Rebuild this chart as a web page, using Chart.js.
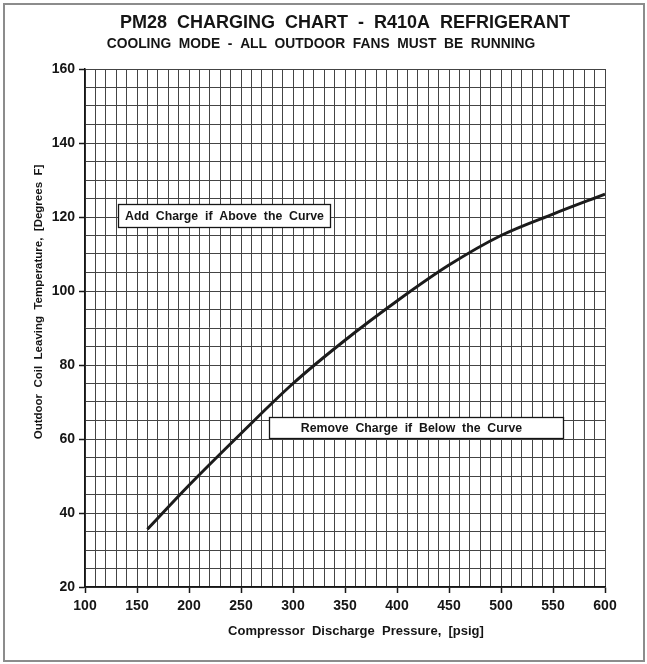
<!DOCTYPE html>
<html>
<head>
<meta charset="utf-8">
<script src="https://cdn.jsdelivr.net/npm/chart.js@4.4.1/dist/chart.umd.min.js"></script>
<style>
  html, body { margin: 0; padding: 0; background: #fff; }
  canvas { display: block; }
</style>
</head>
<body>
<canvas id="chart" width="647" height="664"></canvas>
<script>
// Charging curve: compressor discharge pressure (psig) vs outdoor coil leaving temperature (°F)
const pressurePsig = [160, 200, 250, 300, 350, 400, 450, 500, 550, 600];
const leavingTempF = [35.6, 47.5, 61.5, 75.0, 86.7, 97.3, 107.0, 115.0, 120.8, 126.2];

// Labelled ticks on each axis
const xTickLabels = [100, 150, 200, 250, 300, 350, 400, 450, 500, 550, 600];
const yTickLabels = [20, 40, 60, 80, 100, 120, 140, 160];

// Text
const chartTitle = 'PM28  CHARGING  CHART  -  R410A  REFRIGERANT';
const chartSubtitle = 'COOLING  MODE  -  ALL  OUTDOOR  FANS  MUST  BE  RUNNING';
const xAxisTitle = 'Compressor  Discharge  Pressure,  [psig]';
const yAxisTitle = 'Outdoor  Coil  Leaving  Temperature,  [Degrees  F]';
const addChargeNote = 'Add  Charge  if  Above  the  Curve';
const removeChargeNote = 'Remove  Charge  if  Below  the  Curve';

const FONT = '"Liberation Sans", Arial, Helvetica, sans-serif';
const INK = '#151515';

// Fine grid: every 10 psig and every 5 °F
const X_MIN = 100, X_MAX = 600, X_STEP = 10;
const Y_MIN = 20, Y_MAX = 160, Y_STEP = 5;
const xGrid = [];
for (let v = X_MIN; v <= X_MAX; v += X_STEP) xGrid.push(v);
const yGrid = [];
for (let v = Y_MIN; v <= Y_MAX; v += Y_STEP) yGrid.push(v);

// Note boxes, placed in axis units
const noteBoxes = [
  { text: addChargeNote,    x0: 131.5, x1: 335.5, y0: 117.2, y1: 123.4, shift: 0 },
  { text: removeChargeNote, x0: 277,   x1: 560,   y0: 60.4,  y1: 66.0,  shift: -5 }
];

const pagePlugin = {
  id: 'page',
  beforeDraw(chart) {
    const ctx = chart.ctx;
    ctx.save();
    ctx.fillStyle = '#fff';
    ctx.fillRect(0, 0, chart.width, chart.height);
    ctx.strokeStyle = '#8c8c8c';
    ctx.lineWidth = 2;
    ctx.strokeRect(4, 4, chart.width - 7, chart.height - 7);
    ctx.restore();
  },
  beforeDatasetsDraw(chart) {
    const ctx = chart.ctx;
    const xs = chart.scales.x, ys = chart.scales.y;
    ctx.save();
    ctx.font = 'bold 12.3px ' + FONT;
    ctx.textAlign = 'center';
    ctx.textBaseline = 'middle';
    noteBoxes.forEach(b => {
      const l = Math.round(xs.getPixelForValue(b.x0)) + 0.5;
      const r = Math.round(xs.getPixelForValue(b.x1)) + 0.5;
      const t = Math.round(ys.getPixelForValue(b.y1)) + 0.5;
      const btm = Math.round(ys.getPixelForValue(b.y0)) + 0.5;
      ctx.fillStyle = '#fff';
      ctx.fillRect(l, t, r - l, btm - t);
      ctx.strokeStyle = INK;
      ctx.lineWidth = 1.3;
      ctx.strokeRect(l, t, r - l, btm - t);
      ctx.fillStyle = INK;
      ctx.fillText(b.text, (l + r) / 2 + b.shift, (t + btm) / 2 + 0.5);
    });
    ctx.restore();
  },
  afterDraw(chart) {
    const ctx = chart.ctx;
    const area = chart.chartArea;
    ctx.save();
    ctx.fillStyle = INK;
    ctx.textAlign = 'center';
    ctx.textBaseline = 'middle';
    ctx.font = 'bold 18px ' + FONT;
    ctx.fillText(chartTitle, (area.left + area.right) / 2, 23);
    ctx.font = 'bold 13.8px ' + FONT;
    ctx.fillText(chartSubtitle, 321, 44);
    ctx.font = 'bold 13px ' + FONT;
    ctx.fillText(xAxisTitle, 356, 631);
    ctx.font = 'bold 11.5px ' + FONT;
    ctx.translate(39, 302);
    ctx.rotate(-Math.PI / 2);
    ctx.fillText(yAxisTitle, 0, 0);
    ctx.restore();
  }
};

new Chart(document.getElementById('chart'), {
  type: 'line',
  data: {
    datasets: [{
      data: pressurePsig.map((p, i) => ({ x: p, y: leavingTempF[i] })),
      borderColor: '#1b1b1b',
      borderWidth: 3,
      pointRadius: 0,
      fill: false,
      cubicInterpolationMode: 'monotone'
    }]
  },
  options: {
    responsive: false,
    devicePixelRatio: 1,
    animation: false,
    layout: { padding: { left: 0, top: 69, right: 42, bottom: 0 } },
    plugins: {
      legend: { display: false },
      tooltip: { enabled: false },
      title: { display: false }
    },
    scales: {
      x: {
        type: 'linear',
        min: X_MIN,
        max: X_MAX,
        afterBuildTicks: s => { s.ticks = xGrid.map(v => ({ value: v })); },
        afterFit: s => { s.height = 77; },
        ticks: {
          autoSkip: false,
          maxRotation: 0,
          minRotation: 0,
          padding: 5,
          color: INK,
          font: { family: FONT, size: 14, weight: 'bold' },
          callback: v => xTickLabels.includes(v) ? String(v) : ''
        },
        grid: {
          color: '#444',
          lineWidth: 1,
          tickLength: 6,
          tickWidth: 1.5,
          tickColor: c => xTickLabels.includes(c.tick.value) ? INK : 'rgba(0,0,0,0)'
        },
        border: { color: INK, width: 1.5 }
      },
      y: {
        type: 'linear',
        min: Y_MIN,
        max: Y_MAX,
        afterBuildTicks: s => { s.ticks = yGrid.map(v => ({ value: v })); },
        afterFit: s => { s.width = 85; },
        ticks: {
          autoSkip: false,
          padding: 4,
          color: INK,
          font: { family: FONT, size: 14, weight: 'bold' },
          callback: v => yTickLabels.includes(v) ? String(v) : ''
        },
        grid: {
          color: '#444',
          lineWidth: 1,
          tickLength: 6,
          tickWidth: 1.5,
          tickColor: c => yTickLabels.includes(c.tick.value) ? INK : 'rgba(0,0,0,0)'
        },
        border: { color: INK, width: 1.5 }
      }
    }
  },
  plugins: [pagePlugin]
});
</script>
</body>
</html>
